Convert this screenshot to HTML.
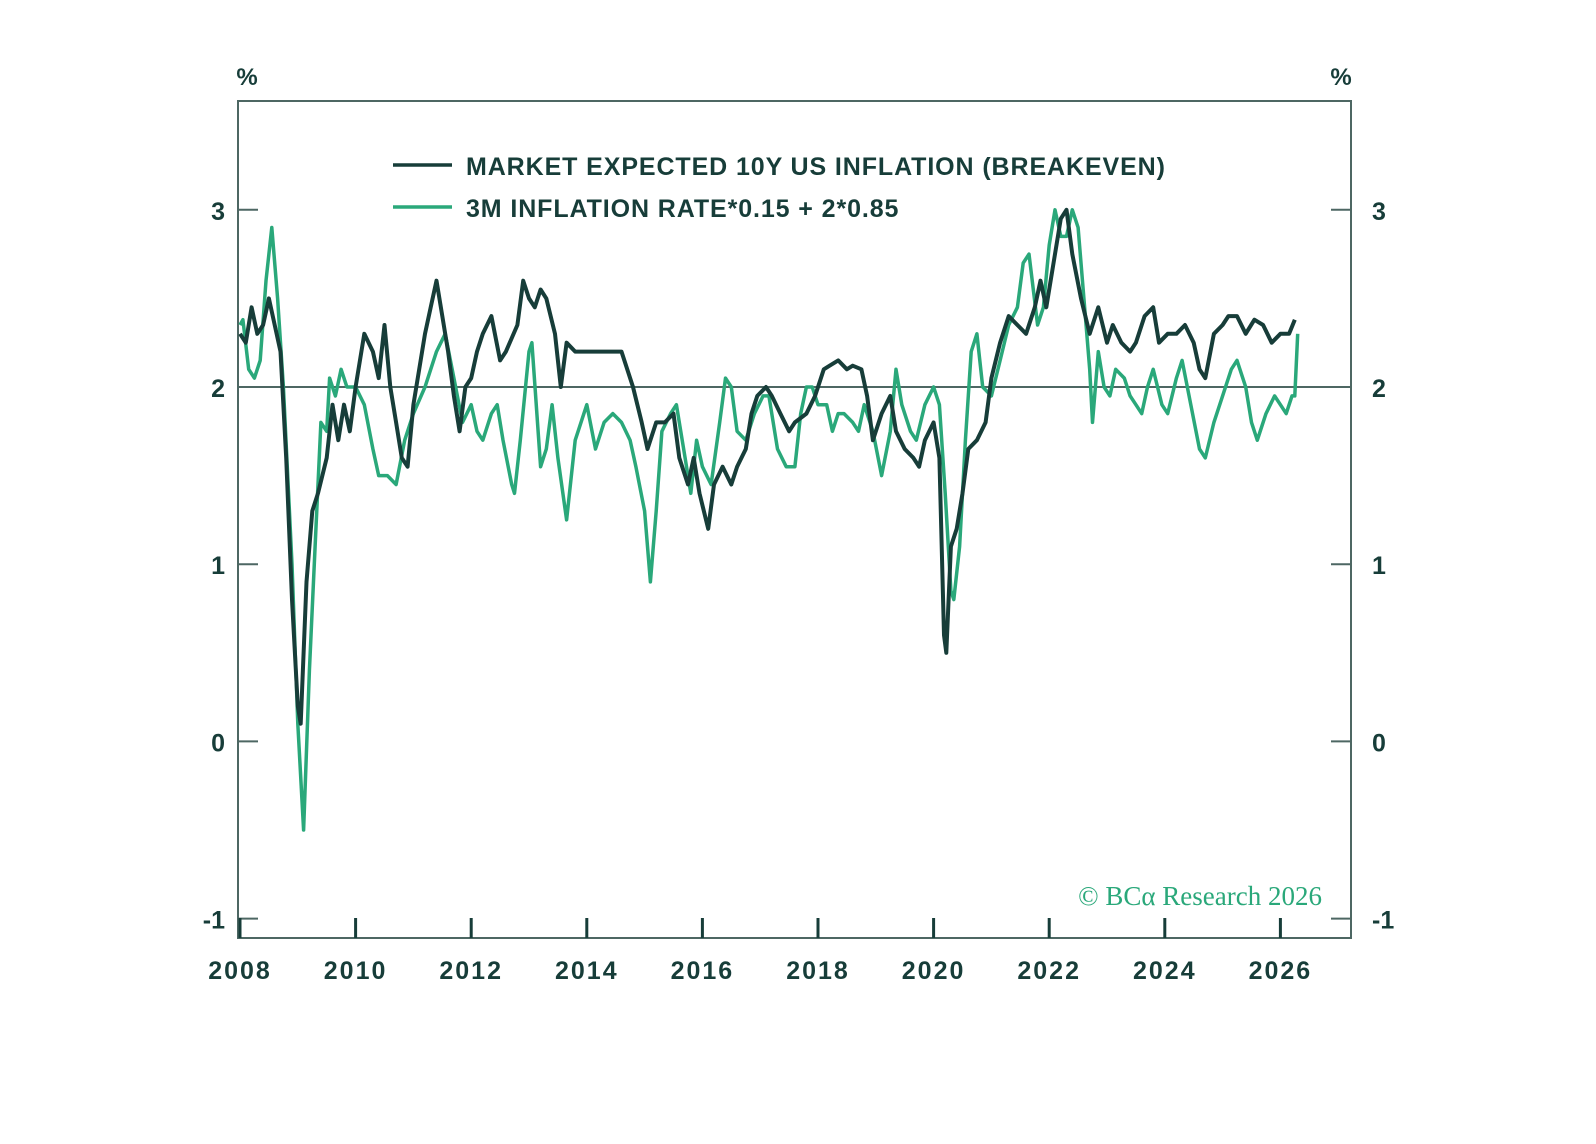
<!DOCTYPE html>
<html><head><meta charset="utf-8">
<style>
html,body{margin:0;padding:0;background:#fff;}
svg{display:block;}
text{font-family:"Liberation Sans",sans-serif;}
</style></head>
<body>
<svg id="chart" width="1596" height="1144" viewBox="0 0 1596 1144" xmlns="http://www.w3.org/2000/svg">
<rect width="1596" height="1144" fill="#fff"/>
<g id="axes"></g>
<g id="series"></g>
<g id="legend">
  <line x1="393" y1="165" x2="452" y2="165" stroke="#173d39" stroke-width="3.5"/>
  <text x="466" y="175" font-size="25" letter-spacing="0.9" fill="#173d39" font-weight="bold">MARKET EXPECTED 10Y US INFLATION (BREAKEVEN)</text>
  <line x1="393" y1="207" x2="452" y2="207" stroke="#2aa87a" stroke-width="3.5"/>
  <text x="466" y="217" font-size="25" letter-spacing="0.9" fill="#173d39" font-weight="bold">3M INFLATION RATE*0.15 + 2*0.85</text>
</g>
<text x="247" y="85" font-size="24" font-weight="bold" fill="#173d39" text-anchor="middle">%</text>
<text x="1341" y="85" font-size="24" font-weight="bold" fill="#173d39" text-anchor="middle">%</text>
<text x="1322" y="905" font-size="27" fill="#2aa87a" text-anchor="end" style="font-family:'Liberation Serif',serif">© BCα Research 2026</text>
</svg>
<script>
const xTicks = [2008,2010,2012,2014,2016,2018,2020,2022,2024,2026];
const yTicks = [-1,0,1,2,3];
const breakevenDates = [2008.0,2008.1,2008.2,2008.3,2008.4,2008.5,2008.6,2008.7,2008.8,2008.9,2009.0,2009.05,2009.15,2009.25,2009.35,2009.5,2009.6,2009.7,2009.8,2009.9,2010.0,2010.15,2010.3,2010.4,2010.5,2010.6,2010.7,2010.8,2010.9,2011.0,2011.1,2011.2,2011.3,2011.4,2011.5,2011.6,2011.7,2011.8,2011.9,2012.0,2012.1,2012.2,2012.35,2012.5,2012.6,2012.8,2012.9,2013.0,2013.1,2013.2,2013.3,2013.45,2013.55,2013.65,2013.8,2014.0,2014.2,2014.4,2014.6,2014.8,2014.95,2015.05,2015.2,2015.35,2015.5,2015.6,2015.75,2015.85,2015.95,2016.1,2016.2,2016.35,2016.5,2016.6,2016.75,2016.85,2016.95,2017.1,2017.2,2017.35,2017.5,2017.6,2017.8,2017.95,2018.1,2018.2,2018.35,2018.5,2018.6,2018.75,2018.85,2018.95,2019.1,2019.25,2019.35,2019.5,2019.65,2019.75,2019.85,2020.0,2020.1,2020.18,2020.22,2020.3,2020.4,2020.5,2020.6,2020.75,2020.9,2021.0,2021.15,2021.3,2021.45,2021.6,2021.75,2021.85,2021.95,2022.1,2022.2,2022.3,2022.4,2022.55,2022.7,2022.85,2023.0,2023.1,2023.25,2023.4,2023.5,2023.65,2023.8,2023.9,2024.05,2024.2,2024.35,2024.5,2024.6,2024.7,2024.85,2025.0,2025.1,2025.25,2025.4,2025.55,2025.7,2025.85,2026.0,2026.15,2026.25];
const breakevenValues = [2.3,2.25,2.45,2.3,2.35,2.5,2.35,2.2,1.6,0.8,0.2,0.1,0.9,1.3,1.4,1.6,1.9,1.7,1.9,1.75,2.0,2.3,2.2,2.05,2.35,2.0,1.8,1.6,1.55,1.9,2.1,2.3,2.45,2.6,2.4,2.2,1.95,1.75,2.0,2.05,2.2,2.3,2.4,2.15,2.2,2.35,2.6,2.5,2.45,2.55,2.5,2.3,2.0,2.25,2.2,2.2,2.2,2.2,2.2,2.0,1.8,1.65,1.8,1.8,1.85,1.6,1.45,1.6,1.4,1.2,1.45,1.55,1.45,1.55,1.65,1.85,1.95,2.0,1.95,1.85,1.75,1.8,1.85,1.95,2.1,2.12,2.15,2.1,2.12,2.1,1.95,1.7,1.85,1.95,1.75,1.65,1.6,1.55,1.7,1.8,1.6,0.6,0.5,1.1,1.2,1.4,1.65,1.7,1.8,2.05,2.25,2.4,2.35,2.3,2.45,2.6,2.45,2.75,2.95,3.0,2.75,2.5,2.3,2.45,2.25,2.35,2.25,2.2,2.25,2.4,2.45,2.25,2.3,2.3,2.35,2.25,2.1,2.05,2.3,2.35,2.4,2.4,2.3,2.38,2.35,2.25,2.3,2.3,2.38];
const inflationDates = [2008.0,2008.05,2008.15,2008.25,2008.35,2008.45,2008.55,2008.65,2008.75,2008.9,2009.0,2009.1,2009.2,2009.3,2009.4,2009.5,2009.55,2009.65,2009.75,2009.85,2010.0,2010.15,2010.3,2010.4,2010.55,2010.7,2010.85,2011.0,2011.2,2011.4,2011.55,2011.7,2011.85,2012.0,2012.1,2012.2,2012.35,2012.45,2012.55,2012.7,2012.75,2012.85,2013.0,2013.05,2013.2,2013.3,2013.4,2013.5,2013.65,2013.8,2014.0,2014.15,2014.3,2014.45,2014.6,2014.75,2014.85,2015.0,2015.1,2015.2,2015.3,2015.45,2015.55,2015.7,2015.8,2015.9,2016.0,2016.15,2016.3,2016.4,2016.5,2016.6,2016.75,2016.9,2017.05,2017.15,2017.3,2017.45,2017.6,2017.7,2017.8,2017.9,2018.0,2018.15,2018.25,2018.35,2018.45,2018.6,2018.7,2018.8,2018.95,2019.1,2019.25,2019.35,2019.45,2019.6,2019.7,2019.85,2020.0,2020.1,2020.2,2020.3,2020.35,2020.45,2020.55,2020.65,2020.75,2020.85,2021.0,2021.15,2021.3,2021.45,2021.55,2021.65,2021.8,2021.9,2022.0,2022.1,2022.2,2022.3,2022.4,2022.5,2022.6,2022.7,2022.75,2022.85,2022.95,2023.05,2023.15,2023.3,2023.4,2023.5,2023.6,2023.7,2023.8,2023.95,2024.05,2024.2,2024.3,2024.45,2024.6,2024.7,2024.85,2025.0,2025.15,2025.25,2025.4,2025.5,2025.6,2025.75,2025.9,2026.0,2026.1,2026.2,2026.25,2026.3];
const inflationValues = [2.35,2.38,2.1,2.05,2.15,2.6,2.9,2.5,2.0,1.0,0.1,-0.5,0.4,1.1,1.8,1.75,2.05,1.95,2.1,2.0,2.0,1.9,1.65,1.5,1.5,1.45,1.7,1.85,2.0,2.2,2.3,2.05,1.8,1.9,1.75,1.7,1.85,1.9,1.7,1.45,1.4,1.7,2.2,2.25,1.55,1.65,1.9,1.6,1.25,1.7,1.9,1.65,1.8,1.85,1.8,1.7,1.55,1.3,0.9,1.3,1.75,1.85,1.9,1.6,1.4,1.7,1.55,1.45,1.8,2.05,2.0,1.75,1.7,1.85,1.95,1.95,1.65,1.55,1.55,1.85,2.0,2.0,1.9,1.9,1.75,1.85,1.85,1.8,1.75,1.9,1.75,1.5,1.75,2.1,1.9,1.75,1.7,1.9,2.0,1.9,1.4,0.85,0.8,1.1,1.7,2.2,2.3,2.0,1.95,2.15,2.35,2.45,2.7,2.75,2.35,2.45,2.8,3.0,2.85,2.85,3.0,2.9,2.5,2.1,1.8,2.2,2.0,1.95,2.1,2.05,1.95,1.9,1.85,2.0,2.1,1.9,1.85,2.05,2.15,1.9,1.65,1.6,1.8,1.95,2.1,2.15,2.0,1.8,1.7,1.85,1.95,1.9,1.85,1.95,1.95,2.3];

const NS="http://www.w3.org/2000/svg";
const L=238,R=1351,T=101,B=938;
function xScale(yr){return 240+(yr-2008)*57.8;}
function yScale(v){return 387-(v-2)*177.2;}
function mk(tag,attrs,parent){const e=document.createElementNS(NS,tag);for(const k in attrs)e.setAttribute(k,attrs[k]);parent.appendChild(e);return e;}
const axes=document.getElementById('axes');
const ser=document.getElementById('series');
const AX="#4d6763", TXT="#173d39";

const frame=mk('rect',{x:L,y:T,width:R-L,height:B-T,fill:'none',stroke:AX,'stroke-width':2},axes);


const ref=mk('line',{x1:L,x2:R,y1:yScale(2),y2:yScale(2),stroke:'#4d6763','stroke-width':2},axes);



yTicks.forEach(v=>{
  const y=yScale(v);
  const tl=mk('line',{x1:L,x2:L+20,y1:y,y2:y,stroke:AX,'stroke-width':2},axes);
  
  
  const tr=mk('line',{x1:R-20,x2:R,y1:y,y2:y,stroke:AX,'stroke-width':2},axes);
  
  
  const a=mk('text',{x:225,y:y+10,'font-size':25,'font-weight':'bold',fill:TXT,'text-anchor':'end'},axes);
  a.textContent=String(v);
  
  
  const b=mk('text',{x:1372,y:y+10,'font-size':25,'font-weight':'bold',fill:TXT,'text-anchor':'start'},axes);
  b.textContent=String(v);
  
  
});
xTicks.forEach(yr=>{
  const x=xScale(yr);
  const t=mk('line',{x1:x,x2:x,y1:B,y2:B-20,stroke:TXT,'stroke-width':3},axes);
  
  
  const lb=mk('text',{x:x,y:979,'font-size':25,'letter-spacing':2,'font-weight':'bold',fill:TXT,'text-anchor':'middle'},axes);
  lb.textContent=String(yr);
  
  
});

function path(dates,vals){return dates.map((d,i)=>(i?'L':'M')+xScale(d).toFixed(1)+','+yScale(vals[i]).toFixed(1)).join(' ');}
const g=mk('path',{d:path(inflationDates,inflationValues),fill:'none',stroke:'#2aa87a','stroke-width':3.5,'stroke-linejoin':'round'},ser);


const k=mk('path',{d:path(breakevenDates,breakevenValues),fill:'none',stroke:'#173d39','stroke-width':4,'stroke-linejoin':'round'},ser);


</script>
</body></html>
